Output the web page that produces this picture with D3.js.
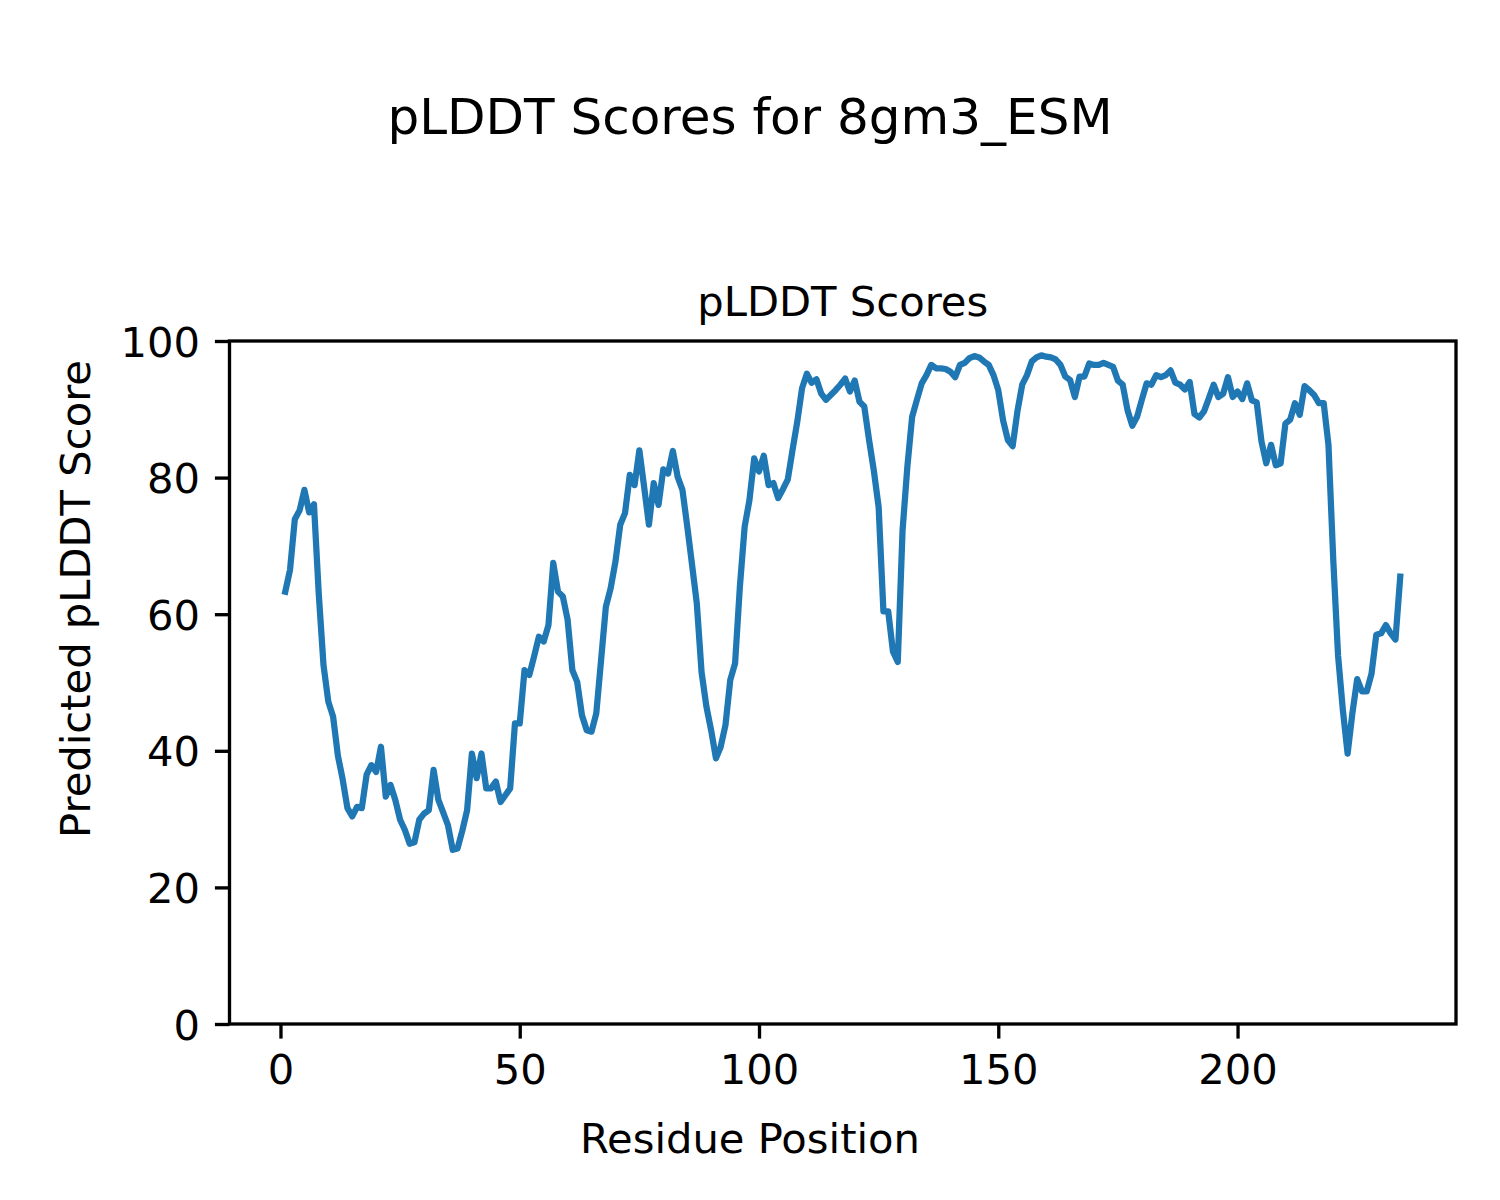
<!DOCTYPE html>
<html>
<head>
<meta charset="utf-8">
<script src="https://cdn.jsdelivr.net/npm/d3@7"></script>
<style>
  html, body { margin: 0; padding: 0; background: #ffffff; }
  svg { display: block; }
  text { font-family: "DejaVu Sans", sans-serif; fill: #000; }
</style>
</head>
<body>
<svg id="chart" width="1500" height="1200"></svg>
<script>
// ---- data ----
const figureTitle = "pLDDT Scores for 8gm3_ESM";
const axesTitle = "pLDDT Scores";
const xLabel = "Residue Position";
const yLabel = "Predicted pLDDT Score";
const xTicks = [0, 50, 100, 150, 200];
const yTicks = [0, 20, 40, 60, 80, 100];
const plddt = [
  63.3, 66.5, 73.9, 75.2, 78.2, 74.9, 76.1, 63.0, 52.5, 47.2,
  45.0, 39.3, 35.8, 31.6, 30.4, 31.8, 31.6, 36.5, 37.9, 36.9,
  40.6, 33.3, 35.0, 32.8, 29.9, 28.4, 26.4, 26.6, 29.9, 30.8,
  31.3, 37.2, 32.8, 31.0, 29.1, 25.5, 25.7, 28.3, 31.3, 39.6,
  36.0, 39.6, 34.5, 34.5, 35.5, 32.5, 33.5, 34.5, 44.0, 44.0,
  51.8, 51.1, 53.8, 56.7, 56.0, 58.4, 67.5, 63.3, 62.6, 59.2,
  51.8, 50.1, 45.2, 43.0, 42.8, 45.5, 53.3, 61.1, 63.8, 67.7,
  73.1, 74.8, 80.4, 78.9, 84.0, 78.6, 73.1, 79.2, 76.0, 81.2,
  80.6, 83.9, 80.1, 78.2, 72.9, 67.3, 61.6, 51.5, 46.5, 43.0,
  38.9, 40.6, 43.8, 50.4, 52.8, 64.0, 72.8, 76.7, 82.8, 80.9,
  83.2, 78.9, 79.2, 77.0, 78.3, 79.7, 84.0, 88.2, 93.1, 95.2,
  93.9, 94.4, 92.3, 91.4, 92.1, 92.8, 93.6, 94.5, 92.6, 94.2,
  91.1, 90.4, 85.5, 81.0, 75.7, 60.4, 60.4, 54.5, 53.0, 72.3,
  81.6, 88.9, 91.4, 93.8, 95.0, 96.5, 96.0, 96.0, 95.9, 95.5,
  94.7, 96.5, 96.8, 97.5, 97.8, 97.6, 97.0, 96.5, 95.0, 92.8,
  88.4, 85.5, 84.6, 89.7, 93.6, 95.0, 97.0, 97.6, 97.9, 97.7,
  97.6, 97.3, 96.5, 94.8, 94.3, 91.8, 94.8, 94.8, 96.7, 96.5,
  96.5, 96.8, 96.5, 96.2, 94.2, 93.6, 89.9, 87.6, 88.9, 91.4,
  93.8, 93.6, 95.0, 94.7, 95.0, 95.7, 93.9, 93.6, 92.9, 94.0,
  89.3, 88.8, 89.7, 91.6, 93.6, 91.8, 92.3, 94.7, 91.8, 92.6,
  91.5, 93.8, 91.3, 91.0, 85.3, 82.1, 84.8, 81.8, 82.1, 87.9,
  88.5, 90.9, 89.2, 93.4, 92.8, 92.1, 90.9, 90.9, 84.8, 68.0,
  54.0, 46.0, 39.6, 45.5, 50.5, 48.7, 48.7, 51.3, 57.0, 57.2,
  58.4, 57.2, 56.3, 65.5
];
const residues = plddt.map((_, i) => i + 1);

// ---- layout ----
const svg = d3.select("#chart");
const L = 229.5, R = 1456, T = 341, B = 1024;
const n = residues.length;
const span = residues[n - 1] - residues[0];
const x = d3.scaleLinear()
  .domain([residues[0] - 0.05 * span, residues[n - 1] + 0.05 * span])
  .range([L, R]);
const y = d3.scaleLinear().domain([0, 100]).range([B, T]);

const tickLen = 14.6, lw = 3.33, fs = 41.67;

// data line
const line = d3.line().x((d, i) => x(residues[i])).y(d => y(d));
svg.append("path")
  .datum(plddt)
  .attr("d", line)
  .attr("fill", "none")
  .attr("stroke", "#1f77b4")
  .attr("stroke-width", 6.25)
  .attr("stroke-linejoin", "round")
  .attr("stroke-linecap", "square");

// x axis
const gx = svg.append("g").attr("transform", `translate(0,${B})`)
  .call(d3.axisBottom(x).tickValues(xTicks).tickSize(tickLen).tickSizeOuter(0).tickFormat(d3.format("d")));
gx.select(".domain").remove();
gx.selectAll(".tick line").attr("stroke", "#000").attr("stroke-width", lw);
gx.selectAll(".tick text")
  .attr("y", 59.5).attr("dy", null)
  .attr("font-size", fs).attr("font-family", "DejaVu Sans").attr("fill", "#000");

// y axis
const gy = svg.append("g").attr("transform", `translate(${L},0)`)
  .call(d3.axisLeft(y).tickValues(yTicks).tickSize(tickLen).tickSizeOuter(0).tickFormat(d3.format("d")));
gy.select(".domain").remove();
gy.selectAll(".tick line").attr("stroke", "#000").attr("stroke-width", lw);
gy.selectAll(".tick text")
  .attr("x", -29.5).attr("dy", "0.36em")
  .attr("font-size", fs).attr("font-family", "DejaVu Sans").attr("fill", "#000");

// spines
svg.append("rect")
  .attr("x", L).attr("y", T).attr("width", R - L).attr("height", B - T)
  .attr("fill", "none").attr("stroke", "#000").attr("stroke-width", lw)
  .attr("stroke-linejoin", "miter");

// titles & labels
svg.append("text").attr("x", 750).attr("y", 133.5)
  .attr("text-anchor", "middle").attr("font-size", 50).text(figureTitle);
svg.append("text").attr("x", (L + R) / 2).attr("y", 316)
  .attr("text-anchor", "middle").attr("font-size", fs).text(axesTitle);
svg.append("text").attr("x", 750).attr("y", 1153)
  .attr("text-anchor", "middle").attr("font-size", fs).text(xLabel);
svg.append("text")
  .attr("transform", "translate(90,599) rotate(-90)")
  .attr("text-anchor", "middle").attr("font-size", fs).text(yLabel);
</script>
</body>
</html>
